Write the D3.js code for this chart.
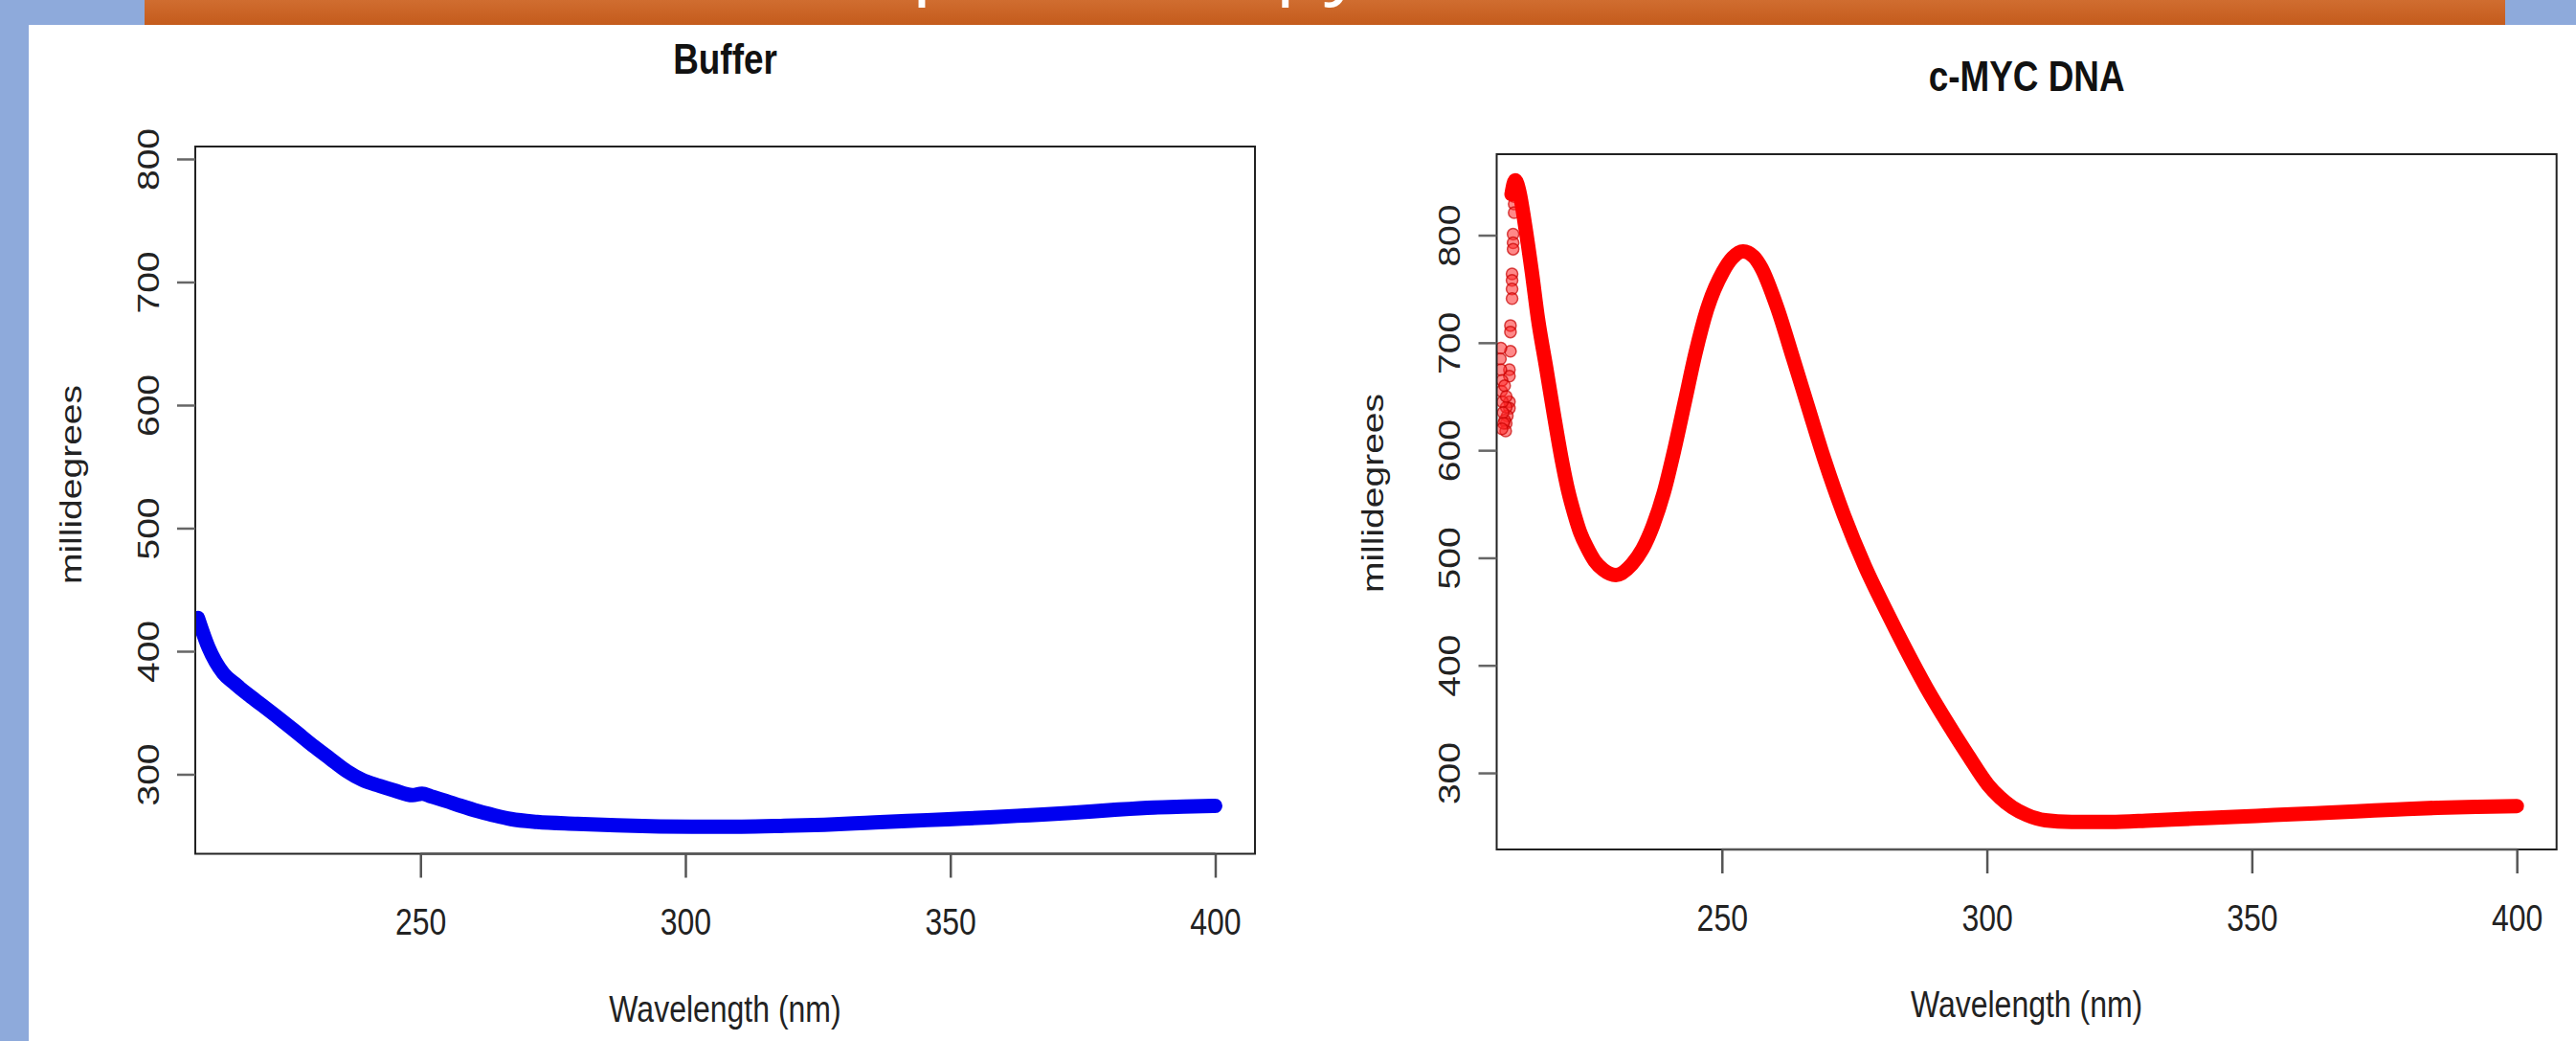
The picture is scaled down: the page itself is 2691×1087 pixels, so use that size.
<!DOCTYPE html>
<html>
<head>
<meta charset="utf-8">
<script src="https://cdn.jsdelivr.net/npm/d3@7"></script>
<style>
  body { margin: 0; background: #fff; }
  svg { display: block; font-family: "Liberation Sans", Arial, sans-serif; }
</style>
</head>
<body>
<div id="chart"></div>
<script>
// CD spectra: wavelength (nm) vs millidegrees
var bufferWavelength = [208, 210, 212.8, 215, 217.4, 220, 223.6, 226.5, 229.9, 233, 236.1, 239, 242.3, 245,
  248.5, 250.3, 252, 254.7, 257.5, 260.9, 264, 267.1, 272, 279.6, 287, 295.1, 303, 310.6, 318, 326.2,
  334, 341.8, 349.5, 357.3, 365, 372.9, 380.5, 388.4, 394, 400];
var bufferMdeg = [427, 403, 382, 373.5, 365, 356.5, 344.5, 334.5, 322.6, 312.5, 302.5, 295.5, 290.6, 287,
  283, 284.3, 282, 278.5, 274.5, 270, 266.5, 263.6, 261.3, 259.8, 258.5, 257.6, 257.3, 257.4, 258, 259,
  260.5, 262, 263.5, 265, 266.8, 268.7, 271, 273, 273.7, 274.3];

var mycWavelength = [210.3, 211, 211.8, 212.8, 214.1, 215.3, 216.8, 218.3, 219.9, 221, 222.2, 223.3, 224.5,
  226, 227.6, 230, 233, 235, 237, 239, 241, 243, 245, 247.2, 250.2, 252, 254, 256, 257.4, 260.4, 263.4,
  266.4, 269.3, 273, 277, 281, 284.8, 288.5, 292.5, 296.5, 300.2, 302.5, 304.8, 307.5, 311, 316, 323.3,
  331, 338.8, 346.5, 354.2, 362, 369.7, 377.4, 385.1, 392.5, 400];
var mycMdeg = [838, 851, 840, 811, 767, 722, 678, 633, 588, 562, 540, 523, 510,
  497, 489, 484, 494, 508, 530, 560, 600, 645, 690, 731, 766, 779, 785, 780, 770, 733, 686,
  638, 592, 540, 492, 451, 414, 380, 347, 316, 289, 277, 268, 261, 256, 254.5, 254.3,
  255.8, 257.5, 259, 260.8, 262.5, 264.2, 266, 267.6, 268.5, 269.2];

// loose readings at the start of the c-MYC scan
var mycScatterWavelength = [210.8, 210.8, 210.8, 210.6, 210.6, 210.6, 210.4, 210.4, 210.4, 210.4,
  210.1, 210.1, 210.1, 209.9, 209.9, 209.9, 209.9, 209.5, 209.3, 209.2, 209.0, 209.3,
  208.3, 208.2, 208.3, 208.5, 208.4, 208.6, 208.7, 208.8, 208.5, 209.0, 209.3];
var mycScatterMdeg = [836, 829, 821, 801, 793, 787, 764, 758, 750, 741,
  716, 710, 692, 675, 669, 645, 639, 632, 625, 618, 628, 640,
  695, 685, 675, 665, 655, 645, 635, 625, 620, 660, 650];

var xTicks = [250, 300, 350, 400];
var yTicks = [300, 400, 500, 600, 700, 800];
var xLimits = [207.5, 407.5];

var svgWidth = 2691;
var svgHeight = 1087;

var svg = d3.select("#chart")
  .append("svg")
  .attr("width", svgWidth)
  .attr("height", svgHeight);

// slide decoration: blue frame and orange title banner
var grad = svg.append("defs").append("linearGradient")
  .attr("id", "banner").attr("x1", 0).attr("y1", 0).attr("x2", 0).attr("y2", 1);
grad.append("stop").attr("offset", "0%").attr("stop-color", "#d06d30");
grad.append("stop").attr("offset", "100%").attr("stop-color", "#c45b1c");

svg.append("rect").attr("x", 0).attr("y", 0).attr("width", 30).attr("height", svgHeight).attr("fill", "#8eaadb");
svg.append("rect").attr("x", 0).attr("y", 0).attr("width", svgWidth).attr("height", 26).attr("fill", "#8eaadb");
svg.append("rect").attr("x", 151).attr("y", 0).attr("width", 2466).attr("height", 26).attr("fill", "url(#banner)");
// slide heading, mostly above the crop: only its descenders show
svg.append("text")
  .attr("x", 172).attr("y", -12)
  .attr("fill", "#fff")
  .attr("font-family", "'Open Sans', sans-serif")
  .attr("font-size", 83)
  .text("Circular Dichroism Spectroscopy");

var panels = [
  { title: "Buffer", wl: bufferWavelength, md: bufferMdeg, color: "#0000f0",
    left: 204, right: 1311, top: 153, bottom: 891.5, yLim: [235.4, 810.1], titleY: 77, labelY: 506 },
  { title: "c-MYC DNA", wl: mycWavelength, md: mycMdeg, color: "#ff0000",
    left: 1563.5, right: 2670.7, top: 161, bottom: 887, yLim: [228.8, 875.3], titleY: 95, labelY: 515,
    scatter: d3.zip(mycScatterWavelength, mycScatterMdeg) }
];

panels.forEach(function(p, i) {
  var x = d3.scaleLinear().domain(xLimits).range([p.left, p.right]);
  var y = d3.scaleLinear().domain(p.yLim).range([p.bottom, p.top]);
  var g = svg.append("g");

  g.append("clipPath").attr("id", "clip" + i)
    .append("rect")
    .attr("x", p.left).attr("y", p.top)
    .attr("width", p.right - p.left).attr("height", p.bottom - p.top);

  var plot = g.append("g").attr("clip-path", "url(#clip" + i + ")");

  if (p.scatter) {
    plot.selectAll("circle")
      .data(p.scatter)
      .enter()
      .append("circle")
      .attr("cx", d => x(d[0]))
      .attr("cy", d => y(d[1]))
      .attr("r", 6)
      .attr("fill", "rgba(255,40,40,0.55)")
      .attr("stroke", "rgba(200,0,0,0.7)")
      .attr("stroke-width", 1.5);
  }

  var line = d3.line()
    .x(d => x(d[0]))
    .y(d => y(d[1]))
    .curve(d3.curveMonotoneX);

  plot.append("path")
    .datum(d3.zip(p.wl, p.md))
    .attr("d", line)
    .attr("fill", "none")
    .attr("stroke", p.color)
    .attr("stroke-width", 15)
    .attr("stroke-linecap", "round")
    .attr("stroke-linejoin", "round");

  // box
  g.append("rect")
    .attr("x", p.left).attr("y", p.top)
    .attr("width", p.right - p.left).attr("height", p.bottom - p.top)
    .attr("fill", "none")
    .attr("stroke", "#222")
    .attr("stroke-width", 2);

  // x axis
  var xAxis = g.append("g")
    .attr("transform", `translate(0, ${p.bottom})`)
    .call(d3.axisBottom(x).tickValues(xTicks).tickSize(25).tickSizeOuter(0));
  xAxis.attr("font-size", 39).attr("font-family", null);
  xAxis.select(".domain").attr("stroke", "#555").attr("stroke-width", 2.5)
    .attr("d", `M${x(250)},0H${x(400)}`);
  xAxis.selectAll(".tick line").attr("stroke", "#555").attr("stroke-width", 2.5);
  xAxis.selectAll(".tick text")
    .attr("y", 85).attr("dy", 0)
    .attr("fill", "#222")
    .attr("transform", "scale(0.82,1)");

  // y axis, labels turned sideways like base R
  var yAxis = g.append("g")
    .attr("transform", `translate(${p.left}, 0)`)
    .call(d3.axisLeft(y).tickValues(yTicks).tickSize(19).tickSizeOuter(0));
  yAxis.attr("font-size", 39).attr("font-family", null);
  yAxis.select(".domain").remove();
  yAxis.selectAll(".tick line").attr("stroke", "#666").attr("stroke-width", 2.5);
  yAxis.selectAll(".tick text")
    .attr("x", 0).attr("y", 0).attr("dy", "0.36em")
    .attr("text-anchor", "middle")
    .attr("fill", "#222")
    .attr("transform", "translate(-50,0) scale(0.82,1) rotate(-90)");

  var cx = (p.left + p.right) / 2;

  g.append("text")
    .attr("transform", `translate(${cx}, ${p.titleY}) scale(0.82,1)`)
    .attr("text-anchor", "middle")
    .attr("font-weight", "bold")
    .attr("font-size", 45)
    .attr("fill", "#111")
    .text(p.title);

  g.append("text")
    .attr("transform", `translate(${cx}, ${p.bottom + 175}) scale(0.82,1)`)
    .attr("text-anchor", "middle")
    .attr("font-size", 39)
    .attr("fill", "#222")
    .text("Wavelength (nm)");

  g.append("text")
    .attr("transform", `translate(${p.left - 130}, ${p.labelY}) scale(0.82,1) rotate(-90)`)
    .attr("text-anchor", "middle")
    .attr("dy", "0.35em")
    .attr("font-size", 39)
    .attr("fill", "#222")
    .text("millidegrees");
});
</script>
</body>
</html>
